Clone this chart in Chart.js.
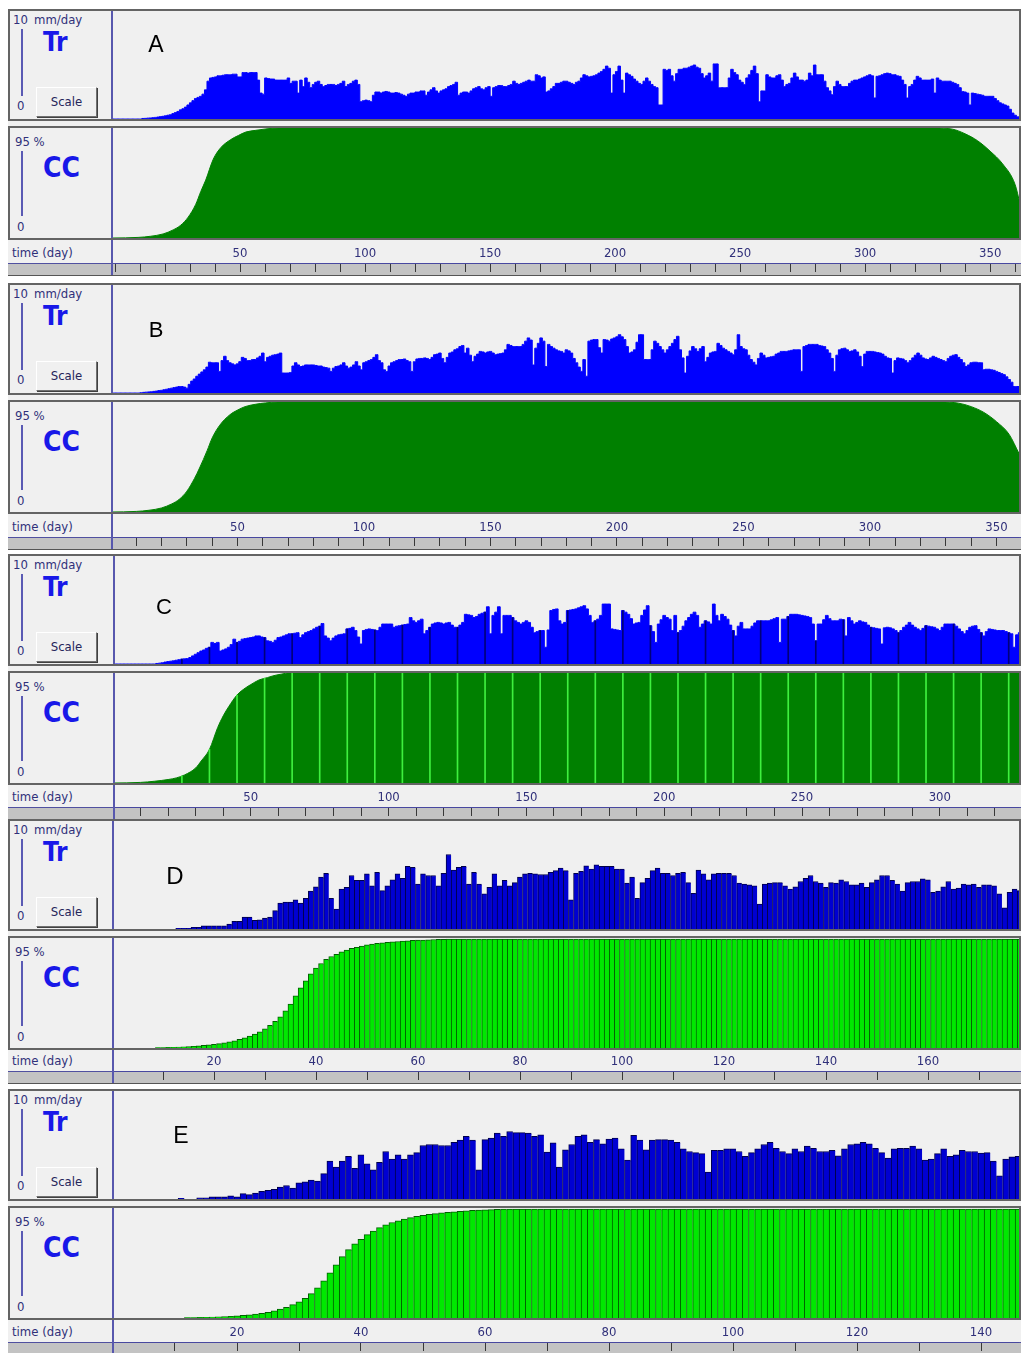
<!DOCTYPE html>
<html lang="en">
<head>
<meta charset="utf-8">
<title>Tr y CC</title>
<script src="https://cdn.jsdelivr.net/npm/chart.js@4.4.1/dist/chart.umd.min.js"></script>
<style>
  html, body { margin: 0; padding: 0; }
  body { width: 1021px; height: 1353px; background: #ffffff; position: relative; overflow: hidden;
         font-family: 'DejaVu Sans Condensed', 'DejaVu Sans', sans-serif; color: #30307a; }
  .abs { position: absolute; }
  .bloque { background: #f0f0f0; }
  .marco { box-sizing: border-box; border: 2px solid #646464; background: #f0f0f0; }
  .divisor { background: #5858ae; width: 2px; }
  .regla { background: #5a5ab4; width: 2px; }
  .chico { font-size: 13px; line-height: 14px; white-space: nowrap; }
  .grande { font-weight: bold; color: #1818e8; white-space: nowrap; }
  .boton { box-sizing: border-box; border: 1px solid; border-color: #ffffff #707070 #707070 #ffffff;
           box-shadow: 1px 1px 0 #404040; background: #f0f0f0; font-size: 13px; text-align: center; color: #25255a; }
  .banda { box-sizing: border-box; background: #c3c3c3; border-top: 1px solid #5050a0; border-bottom: 1px solid #555555; }
  .letra { font-family: 'Liberation Sans', Arial, sans-serif; color: #000000; transform: translate(-50%, -50%); line-height: 1; }
  canvas { position: absolute; }
</style>
</head>
<body>
<script>
// Tr diaria (mm/day), indice = dia
const trA = [
0,0,0,0,0,0,0,0,0,0,
0,0,0.05,0.06,0.08,0.1,0.12,0.15,0.18,0.22,
0.25,0.3,0.35,0.4,0.5,0.6,0.7,0.85,0.95,1.1,
1.3,1.5,1.7,1.9,2.0,2.1,2.3,2.7,3.5,3.8,
3.85,3.9,4.0,4.0,4.05,4.1,4.1,4.1,4.15,4.15,
3.9,3.9,4.3,4.3,4.25,4.3,4.3,4.3,3.6,2.4,
2.3,3.8,3.75,3.7,3.7,3.6,3.6,3.6,3.6,3.6,
3.8,3.3,3.5,3.5,2.4,3.6,3.0,3.8,3.4,2.9,
3.2,3.4,3.5,3.2,3.0,3.1,3.2,3.2,3.2,3.1,
3.2,3.3,3.5,3.0,3.2,3.3,3.5,3.6,3.2,1.6,
1.7,1.75,1.7,1.6,2.2,2.5,2.5,2.4,2.5,2.55,
2.5,2.4,2.4,2.45,2.4,2.3,2.2,2.1,2.3,2.4,
2.4,2.5,2.5,2.6,2.6,2.2,2.5,2.7,2.9,2.6,
2.4,2.6,2.7,2.8,3.0,3.1,3.2,3.4,2.2,2.4,
2.5,2.5,2.4,2.6,2.8,2.9,3.0,2.8,2.7,2.9,
3.0,2.1,2.9,3.0,3.1,3.1,3.0,3.0,3.1,3.2,
3.5,3.3,3.2,3.3,3.4,3.5,3.6,3.5,3.5,4.1,
4.0,3.8,3.9,2.5,2.6,2.8,3.0,3.3,3.3,3.4,
3.5,3.5,3.4,3.3,3.2,3.4,3.5,3.8,4.1,4.0,
3.9,3.95,4.0,4.1,4.25,4.4,4.6,4.9,4.7,2.4,
4.1,4.4,4.9,3.6,2.4,4.25,4.1,3.95,3.7,3.5,
3.3,3.2,3.5,3.8,3.5,3.2,3.0,2.9,1.3,1.3,
4.6,4.5,4.6,4.0,3.5,4.2,4.6,4.6,4.7,4.7,
4.8,4.9,5.0,4.8,4.7,4.2,3.8,4.0,4.25,3.5,
5.1,5.1,2.9,2.9,2.9,2.9,3.8,4.6,4.3,4.1,
3.6,3.4,3.2,3.8,4.1,4.5,4.9,4.2,1.6,2.6,
2.6,4.1,3.9,3.8,3.8,4.0,4.1,3.6,3.0,3.2,
3.3,3.8,4.25,3.9,3.6,3.6,3.5,3.6,4.25,4.0,
5.0,4.1,4.1,4.1,3.5,2.9,2.6,2.25,3.0,3.5,
3.2,3.0,3.0,3.0,3.3,3.5,3.6,3.6,3.7,3.8,
3.9,4.0,4.1,4.0,1.95,3.95,4.0,4.1,4.2,4.25,
4.2,4.1,4.1,4.0,3.95,3.6,3.2,1.95,3.0,3.2,
3.6,3.95,3.8,3.6,3.6,3.6,3.6,3.7,2.4,3.8,
3.6,3.5,3.5,3.5,3.5,3.4,3.3,3.2,2.9,2.55,
2.5,2.4,1.3,2.4,2.35,2.3,2.25,2.2,2.1,2.1,
2.1,2.1,1.9,1.7,1.5,1.4,1.3,1.2,0.9,0.55,
0.35,0.2,0.1
];
const trB = [
0,0,0,0,0,0,0,0,0,0,
0,0,0.03,0.06,0.08,0.1,0.12,0.15,0.18,0.22,
0.25,0.3,0.35,0.4,0.45,0.5,0.55,0.6,0.6,0.55,
0.45,0.8,1.1,1.3,1.55,1.75,1.95,2.15,2.4,2.85,
2.8,2.8,2.8,2.0,3.0,3.4,3.0,2.8,2.7,2.6,
2.7,2.9,3.3,3.2,3.0,3.0,3.1,3.1,3.25,3.4,
3.7,2.9,3.3,3.4,3.5,3.55,3.6,3.7,1.85,1.85,
1.85,1.9,2.5,2.8,2.6,2.45,2.5,2.6,2.6,2.6,
2.6,2.55,2.5,2.5,2.4,2.35,2.3,2.0,2.3,2.45,
2.5,2.6,2.8,2.5,2.3,2.4,2.6,2.9,2.5,2.15,
2.8,2.9,3.0,3.1,3.3,3.55,3.0,2.8,2.15,2.0,
2.5,2.8,2.9,3.0,3.1,3.1,3.15,3.0,2.9,2.0,
2.9,3.15,3.2,3.2,3.25,3.2,3.1,3.3,3.55,3.6,
3.7,3.2,2.8,3.3,3.7,3.8,4.0,4.1,4.3,4.4,
3.7,4.15,3.5,2.9,3.4,3.6,3.85,3.8,3.7,3.8,
3.85,3.7,3.55,3.6,3.65,3.7,4.0,4.5,4.4,4.3,
4.3,4.3,4.3,4.5,4.8,5.1,4.9,2.6,4.15,4.6,
5.1,4.8,2.45,4.5,4.3,4.15,4.0,3.9,3.85,3.7,
4.0,3.9,3.7,3.2,2.8,2.4,2.0,3.1,1.55,4.8,
4.9,4.95,4.95,4.2,3.7,4.95,4.9,4.8,5.0,5.1,
5.2,5.4,5.2,4.95,4.3,3.7,3.8,4.0,4.7,5.4,
5.4,3.1,3.1,3.1,4.0,4.8,4.6,4.3,4.0,3.7,
4.0,4.3,4.6,4.95,5.25,4.0,3.25,1.85,3.4,3.9,
4.3,4.1,3.85,4.1,4.3,2.9,3.3,3.7,3.8,3.85,
4.6,4.4,4.15,4.0,3.85,3.7,3.55,4.0,5.4,4.3,
4.1,4.0,3.5,3.1,2.85,2.6,3.2,3.7,3.5,3.25,
3.3,3.35,3.4,3.6,3.7,3.85,3.85,3.85,3.9,3.95,
4.0,4.0,4.0,2.0,4.3,4.4,4.5,4.5,4.5,4.5,
4.4,4.35,4.3,4.0,3.7,3.2,2.0,3.5,4.0,4.1,
4.15,4.0,3.85,3.9,4.0,3.8,3.4,2.45,3.6,3.85,
3.85,3.85,3.8,3.75,3.7,3.6,3.4,3.25,3.2,1.85,
3.0,3.25,3.2,3.15,3.0,2.8,3.0,3.25,3.5,3.7,
3.5,3.25,3.15,3.1,3.25,3.4,3.3,3.2,3.1,3.0,
2.9,3.2,3.4,3.5,3.55,3.3,3.1,2.8,2.45,2.6,
2.8,2.85,2.85,2.8,2.8,2.15,2.2,2.2,2.15,2.1,
2.0,1.9,1.8,1.7,1.5,1.25,1.0,0.6,0.6,0.6
];
const trC = [
0,0,0,0,0,0,0,0,0,0,
0,0,0,0,0,0,0.05,0.08,0.12,0.18,
0.22,0.26,0.3,0.35,0.4,0.45,0.48,0.5,0.6,0.75,
0.9,1.05,1.2,1.3,1.45,1.55,2.0,1.9,2.0,1.2,
1.3,1.4,1.55,1.8,2.3,2.0,2.1,2.3,2.35,2.4,
2.45,2.5,2.6,2.6,2.5,2.45,2.15,2.1,2.0,2.2,
2.45,2.5,2.6,2.7,2.8,2.8,2.85,2.9,2.45,2.7,
2.9,3.0,3.1,3.25,3.4,3.5,3.75,2.6,2.4,2.15,
2.4,2.6,2.7,2.75,2.8,3.25,3.3,3.4,3.1,2.5,
1.85,3.1,3.2,3.25,3.2,3.15,3.1,3.4,3.7,3.7,
3.7,3.7,3.4,3.5,3.55,3.6,3.65,3.7,4.3,4.0,
3.85,4.0,4.15,2.8,3.1,3.4,3.7,3.8,3.85,3.8,
3.7,3.8,3.85,3.6,3.4,3.4,3.6,3.85,4.6,4.55,
4.5,4.3,4.4,4.6,4.7,4.8,5.3,2.8,4.5,4.8,
5.3,2.8,4.5,4.5,4.5,4.3,4.0,3.85,3.7,3.85,
4.0,3.85,3.4,2.9,3.0,3.1,3.1,1.55,3.15,4.95,
5.05,5.1,4.0,3.7,3.85,4.95,5.0,5.05,5.1,5.2,
5.3,5.4,5.1,4.5,3.85,4.0,4.15,4.5,5.55,5.55,
5.55,3.25,3.2,3.15,3.1,4.95,4.8,4.6,4.2,3.7,
3.8,3.85,4.5,5.0,5.4,3.55,3.0,2.0,3.7,4.1,
4.5,4.3,4.15,3.1,4.5,2.9,3.1,3.5,4.0,4.3,
4.6,4.8,4.5,3.4,3.7,4.0,3.9,3.7,5.55,4.5,
4.0,4.6,4.4,4.15,3.6,3.1,2.6,3.5,3.85,3.25,
3.25,3.25,3.5,3.8,4.0,4.0,4.0,4.0,4.0,4.1,
4.2,4.3,2.0,4.15,4.15,4.4,4.6,4.6,4.6,4.55,
4.5,4.45,4.4,4.3,3.7,2.15,3.7,3.7,4.1,4.5,
4.2,4.0,4.0,4.0,4.15,4.1,2.6,4.3,4.0,3.7,
3.85,4.0,3.9,3.85,3.6,3.4,3.35,3.3,3.25,1.85,
3.35,3.4,3.35,3.25,3.1,2.9,3.1,3.4,3.6,3.85,
3.6,3.4,3.25,3.1,3.3,3.55,3.5,3.45,3.4,3.25,
3.1,3.4,3.7,3.7,3.7,3.7,3.5,3.25,3.0,2.8,
3.1,3.4,3.5,3.55,3.2,2.9,2.6,3.0,3.25,3.2,
3.15,3.1,3.1,3.1,3.0,2.9,2.8,1.55,2.7,2.9
];
const trD = [
0,0,0,0,0,0,0,0,0,0,
0,0,0,0.06,0.06,0.06,0.15,0.15,0.3,0.3,
0.3,0.3,0.3,0.45,0.7,0.7,1.1,1.1,0.8,0.85,
1.0,1.1,1.7,2.4,2.5,2.5,2.7,2.4,2.85,3.5,
3.9,4.8,5.15,2.85,1.85,3.7,3.85,4.95,4.5,4.5,
5.1,4.0,5.25,3.55,4.0,4.55,5.1,4.7,5.8,5.7,
4.15,5.1,4.95,4.95,4.0,5.15,6.9,5.45,5.7,5.8,
4.15,5.25,4.15,3.25,3.85,5.1,4.0,4.5,4.0,4.3,
4.8,5.1,5.15,5.1,5.05,5.05,5.25,5.4,5.65,5.4,
2.7,5.15,5.35,5.85,5.55,5.95,5.8,5.8,5.8,5.55,
5.55,4.25,4.8,2.85,4.3,4.7,5.4,5.65,5.15,5.15,
4.95,5.15,5.25,4.3,3.3,5.45,5.1,4.55,5.1,5.15,
5.15,5.15,4.95,4.25,4.15,4.1,4.0,2.3,4.15,4.25,
4.3,4.3,4.0,3.7,3.9,4.4,4.7,4.95,4.4,4.25,
3.85,4.3,4.25,4.55,4.4,4.1,4.1,4.25,3.85,4.3,
4.55,4.95,4.95,4.5,4.15,3.5,4.3,4.4,4.4,4.65,
4.55,3.4,3.5,3.9,4.4,3.7,3.8,4.15,4.1,4.15,
3.85,4.1,4.1,4.0,3.25,1.95,3.4,3.7,3.55
];
const trE = [
0,0,0,0,0,0,0,0,0,0,
0,0.06,0,0,0.1,0.1,0.2,0.2,0.2,0.3,
0.2,0.5,0.4,0.55,0.7,0.8,0.9,1.1,1.25,1.0,
1.5,1.6,1.75,1.65,2.35,3.5,2.95,3.5,3.95,2.85,
4.1,3.25,2.7,3.4,4.4,3.7,4.1,3.7,4.1,4.3,
4.95,5.05,5.05,4.95,4.95,5.25,5.45,5.8,5.45,2.7,
5.5,5.65,6.1,5.8,6.25,6.15,6.15,6.1,5.8,5.95,
4.35,5.2,2.95,4.55,5.05,5.8,5.95,5.25,5.5,5.1,
5.55,5.65,4.65,3.6,5.9,5.45,4.55,5.45,5.5,5.5,
5.45,5.25,4.65,4.4,4.3,4.2,2.5,4.5,4.5,4.65,
4.65,4.4,3.95,4.3,4.65,5.05,5.25,4.7,4.4,4.2,
4.65,4.4,4.9,4.7,4.4,4.4,4.5,4.0,4.65,5.05,
5.1,5.25,5.1,4.7,4.3,3.8,4.65,4.7,4.7,4.9,
4.65,3.6,3.7,4.2,4.65,3.95,4.1,4.5,4.4,4.4,
4.25,4.3,3.5,2.15,3.7,3.9,3.95
];

const ccDiasA = [0,10,15,20,24,27,30,33,35,37,40,43,47,50,53,57,61,66,328,335,340,345,350,355,360,362];
const ccA     = [0,0.5,1.5,3.5,7,11,18,29,40,50,68,78,85,88.5,91.5,93,94.2,95,95,94,90,84,75,64,46,29];
const ccDiasB = [0,10,15,20,24,27,30,33,35,38,40,43,47,50,53,57,61,66,328,335,340,345,350,355,359];
const ccB     = [0,0.5,1.5,3.5,7,11,18,29,38,53,64,75,84,88,91,93,94.2,95,95,94,91,86,78,67,50];
const ccDiasC = [0,10,15,20,23,26,30,32,35,38,40,42,45,48,50,53,56,58,61,64,330];
const ccC     = [0,0.5,1.5,3,4.4,7,13,19,29,48,58,66,76,82,85,89,91,92.5,94,95,95];
// lineas claras / oscuras cada 10 dias en el panel C
const franjasC = [25,35,45,55,65,75,85,95,105,115,125,135,145,155,165,175,185,195,205,215,225,235,245,255,265,275,285,295,305,315,325];
const ccFranjasC = [6,29,76,90.5,95,95,95,95,95,95,95,95,95,95,95,95,95,95,95,95,95,95,95,95,95,95,95,95,95,95,95];

// CC diaria para D y E
const ccD = [
0,0,0,0,0,0,0,0,0,0.3,
0.4,0.5,0.6,0.8,1.0,1.2,1.5,1.8,2.2,2.7,
3.2,3.8,4.5,5.3,6.3,7.5,8.8,10.3,12,14,
16.5,19.5,23,27,32,38,45,52,58,64,
69,73,76.5,79,81,83,84.5,86,87,88,
89,89.7,90.3,90.8,91.2,91.6,92,92.3,92.6,92.9,
93.1,93.3,93.5,93.7,93.8,93.9,94,94,94,94,
94,94,94,94,94,94,94,94,94,94,94,94,94,94,94,94,94,94,94,94,
94,94,94,94,94,94,94,94,94,94,94,94,94,94,94,94,94,94,94,94,
94,94,94,94,94,94,94,94,94,94,94,94,94,94,94,94,94,94,94,94,
94,94,94,94,94,94,94,94,94,94,94,94,94,94,94,94,94,94,94,94,
94,94,94,94,94,94,94,94,94,94,94,94,94,94,94,94,94,94,94,94,
94,94,94,94,94,94,94,94,94
];
const ccE = [
0,0,0,0,0,0,0,0,0,0,
0,0,0.3,0.4,0.5,0.6,0.8,1.0,1.2,1.5,
1.8,2.2,2.7,3.3,4.0,5.0,6.2,7.6,9.3,11.5,
14,17,21,26,32,39,46,53,59,64,
68,72,75,78,80.5,82.5,84,85.5,86.7,87.8,
88.7,89.5,90.2,90.8,91.3,91.8,92.2,92.6,92.9,93.2,
93.4,93.6,93.8,94,94,94,94,94,94,94,
94,94,94,94,94,94,94,94,94,94,94,94,94,94,94,94,94,94,94,94,
94,94,94,94,94,94,94,94,94,94,94,94,94,94,94,94,94,94,94,94,
94,94,94,94,94,94,94,94,94,94,94,94,94,94,94,94,94,94,94,94,
94,94,94,94,94,94,94,94,94,94,94,94,94,94,94,94,94
];

// etiquetas del eje de tiempo
const etiquetasA = [50,100,150,200,250,300,350];
const etiquetasB = [50,100,150,200,250,300,350];
const etiquetasC = [50,100,150,200,250,300];
const etiquetasD = [20,40,60,80,100,120,140,160];
const etiquetasE = [20,40,60,80,100,120,140];

const paneles = [
  { letra: 'A', arriba: 9,    banda: 263,  divisor: 111, x0: 113, ppd: 2.506, tr: trA, ccDias: ccDiasA, cc: ccA, etiquetas: etiquetasA, lx: 156, ly: 44,   lt: 23 },
  { letra: 'B', arriba: 283,  banda: 537,  divisor: 111, x0: 111, ppd: 2.53,  tr: trB, ccDias: ccDiasB, cc: ccB, etiquetas: etiquetasB, lx: 156, ly: 330,  lt: 22 },
  { letra: 'C', arriba: 554,  banda: 807,  divisor: 113, x0: 113, ppd: 2.756, tr: trC, ccDias: ccDiasC, cc: ccC, etiquetas: etiquetasC, lx: 164, ly: 607,  lt: 22, franjas: franjasC, ccFranjas: ccFranjasC },
  { letra: 'D', arriba: 819,  banda: 1071, divisor: 112, x0: 112, ppd: 5.1,   tr: trD, ccDiario: ccD, etiquetas: etiquetasD, lx: 175, ly: 876,  lt: 24, barras: true },
  { letra: 'E', arriba: 1089, banda: 1342, divisor: 112, x0: 113, ppd: 6.2,   tr: trE, ccDiario: ccE, etiquetas: etiquetasE, lx: 181, ly: 1135, lt: 23, barras: true }
];

function caja(clase, x, y, w, h, texto) {
  const el = document.createElement('div');
  el.className = 'abs ' + clase;
  el.style.left = x + 'px';
  el.style.top = y + 'px';
  if (w !== null) { el.style.width = w + 'px'; }
  if (h !== null) { el.style.height = h + 'px'; }
  if (texto) { el.textContent = texto; }
  document.body.appendChild(el);
  return el;
}

function lienzo(x, y, w, h) {
  const c = document.createElement('canvas');
  c.width = w;
  c.height = h;
  c.style.left = x + 'px';
  c.style.top = y + 'px';
  c.style.width = w + 'px';
  c.style.height = h + 'px';
  document.body.appendChild(c);
  return c.getContext('2d');
}

function opcionesBase(p, maxY) {
  return {
    responsive: false,
    animation: false,
    devicePixelRatio: 1,
    events: [],
    layout: { padding: 0 },
    plugins: { legend: { display: false }, tooltip: { enabled: false } },
    scales: {
      x: { type: 'linear', min: p.min, max: p.max, offset: false, display: false },
      y: { min: 0, max: maxY, display: false }
    }
  };
}

function puntosDiarios(valores) {
  const pts = [];
  valores.forEach(function (v, i) {
    if (v > 0) { pts.push({ x: i, y: v }); }
  });
  return pts;
}

function crearTr(ctx, p) {
  const datasets = [];
  if (p.barras) {
    datasets.push({
      type: 'bar',
      data: puntosDiarios(p.tr),
      backgroundColor: '#0000d2',
      borderColor: '#00004a',
      borderWidth: { left: 1, top: 1, right: 0, bottom: 0 },
      barPercentage: 1,
      categoryPercentage: 1,
      grouped: false
    });
  } else {
    // relleno escalonado: un escalon por dia, sin juntas entre barras
    datasets.push({
      type: 'line',
      data: p.tr.map(function (v, i) { return { x: i, y: v }; }),
      stepped: 'middle',
      fill: 'origin',
      backgroundColor: '#0000ff',
      borderColor: '#0000ff',
      borderWidth: 1,
      pointRadius: 0,
      order: 1
    });
  }
  if (p.franjas) {
    datasets.push({
      type: 'bar',
      data: p.franjas.map(function (d) { return { x: d, y: p.tr[d] }; }),
      backgroundColor: '#00007a',
      barThickness: 1,
      grouped: false,
      order: 0
    });
  }
  return new Chart(ctx, { type: 'bar', data: { datasets: datasets }, options: opcionesBase(p, 10) });
}

function crearCC(ctx, p) {
  const datasets = [];
  if (p.ccDiario) {
    datasets.push({
      type: 'bar',
      data: puntosDiarios(p.ccDiario),
      backgroundColor: '#00e800',
      borderColor: '#006000',
      borderWidth: { left: 1, top: 1, right: 0, bottom: 0 },
      barPercentage: 1,
      categoryPercentage: 1,
      grouped: false
    });
  } else {
    datasets.push({
      type: 'line',
      data: p.ccDias.map(function (d, i) { return { x: d, y: p.cc[i] }; }),
      backgroundColor: '#008000',
      borderColor: '#008000',
      borderWidth: 1,
      fill: 'origin',
      pointRadius: 0,
      cubicInterpolationMode: 'monotone',
      order: 1
    });
    if (p.franjas) {
      datasets.push({
        type: 'bar',
        data: p.franjas.map(function (d, i) { return { x: d, y: p.ccFranjas[i] }; }),
        backgroundColor: '#3ef03e',
        barThickness: 1,
        grouped: false,
        order: 0
      });
    }
  }
  return new Chart(ctx, { type: 'bar', data: { datasets: datasets }, options: opcionesBase(p, 95) });
}

function crearEje(ctx, p, altoEje) {
  return new Chart(ctx, {
    type: 'line',
    data: { datasets: [] },
    options: {
      responsive: false,
      animation: false,
      devicePixelRatio: 1,
      events: [],
      layout: { padding: 0 },
      plugins: { legend: { display: false }, tooltip: { enabled: false } },
      scales: {
        x: {
          type: 'linear',
          position: 'top',
          min: p.min,
          max: p.max,
          afterFit: function (eje) { eje.height = altoEje; },
          ticks: {
            stepSize: 10,
            autoSkip: false,
            maxRotation: 0,
            includeBounds: false,
            maxTicksLimit: 1000,
            padding: 2,
            color: '#30307a',
            font: { family: 'DejaVu Sans Condensed', size: 13 },
            callback: function (v) { return p.etiquetas.includes(v) ? String(v) : ''; }
          },
          grid: { drawTicks: false, color: '#383838', lineWidth: 1 },
          border: { display: true, color: '#4848a0', width: 1 }
        },
        y: { display: false, min: 0, max: 1 }
      }
    }
  });
}

function crearPanel(p) {
  const T = p.arriba;
  const izq = p.divisor + 2;
  const ancho = 1019 - izq;
  p.min = (izq - p.x0) / p.ppd;
  p.max = (1019 - p.x0) / p.ppd;

  caja('bloque', 8, T, 1013, p.banda + 13 - T, null);
  caja('marco', 8, T, 1013, 112, null);
  caja('marco', 8, T + 117, 1013, 114, null);
  caja('banda', 8, p.banda, 1013, 13, null);
  caja('divisor', p.divisor, T + 2, null, 108, null);
  caja('divisor', p.divisor, T + 119, null, 110, null);
  caja('divisor', p.divisor, T + 231, null, p.banda + 12 - (T + 231), null);

  // rotulos Tr
  caja('chico', 13, T + 4, null, null, '10');
  caja('chico', 34, T + 4, null, null, 'mm/day');
  caja('regla', 21, T + 20, null, 67, null);
  caja('chico', 17, T + 90, null, null, '0');
  const tr = caja('grande', 43, T + 20, null, null, 'Tr');
  tr.style.fontSize = '26px';
  tr.style.lineHeight = '26px';
  const boton = caja('boton', 36, T + 78, 61, 30, 'Scale');
  boton.style.lineHeight = '27px';

  // rotulos CC
  caja('chico', 15, T + 126, null, null, '95 %');
  caja('regla', 21, T + 142, null, 65, null);
  caja('chico', 17, T + 211, null, null, '0');
  const cc = caja('grande', 43, T + 145, null, null, 'CC');
  cc.style.fontSize = '28px';
  cc.style.lineHeight = '28px';

  caja('chico', 12, p.banda - 17, null, null, 'time (day)');

  crearTr(lienzo(izq, T + 2, ancho, 108), p);
  crearCC(lienzo(izq, T + 119, ancho, 110), p);
  const altoEje = p.banda - (T + 231);
  crearEje(lienzo(izq, T + 231, ancho, altoEje + 9), p, altoEje);

  const letra = caja('letra', p.lx, p.ly, null, null, p.letra);
  letra.style.fontSize = p.lt + 'px';
}

paneles.forEach(crearPanel);
</script>
</body>
</html>
